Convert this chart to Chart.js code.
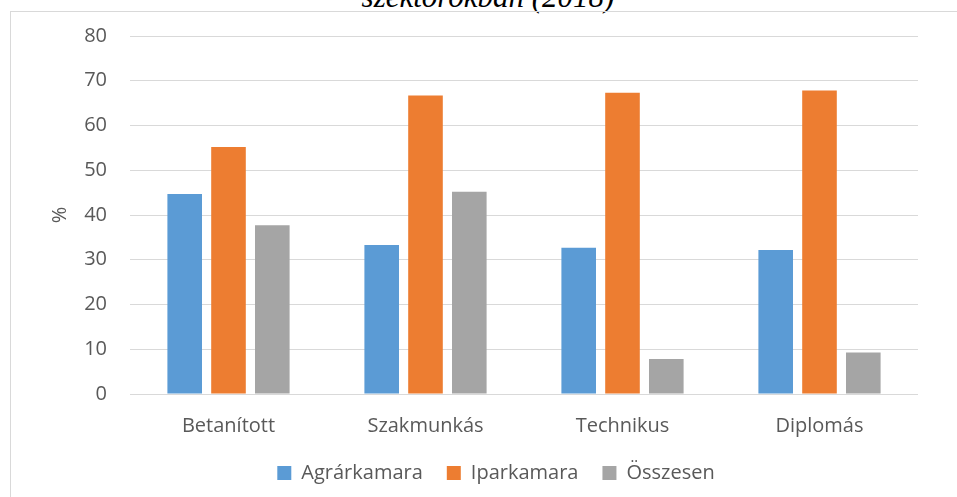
<!DOCTYPE html>
<html><head><meta charset="utf-8">
<script src="https://cdn.jsdelivr.net/npm/chart.js@4"></script>
<style>
html,body{margin:0;padding:0;width:957px;height:497px;overflow:hidden;background:#fff;}
#frame{position:absolute;left:10px;top:11px;width:1000px;height:600px;border:1px solid #d9d9d9;box-sizing:border-box;}
#doc-title{position:absolute;left:488px;top:-19.5px;transform:translateX(-50%);font-family:"Liberation Serif";font-style:italic;font-size:31px;line-height:31px;white-space:nowrap;color:#000;}
canvas{position:absolute;left:0;top:0;}
</style></head><body>
<div id="doc-title">szektorokban (2018)</div>
<div id="frame"></div>
<canvas id="c" width="957" height="497"></canvas>
<script>
const categories = ['Betanított', 'Szakmunkás', 'Technikus', 'Diplomás'];
const seriesNames = ['Agrárkamara', 'Iparkamara', 'Összesen'];
const agrarkamara = [44.7, 33.3, 32.7, 32.2];
const iparkamara = [55.2, 66.7, 67.3, 67.8];
const osszesen = [37.7, 45.2, 7.8, 9.3];
const yTicks = [0, 10, 20, 30, 40, 50, 60, 70, 80];
const colors = ['#5B9BD5', '#ED7D31', '#A5A5A5'];

const textColor = '#595959';
const fontFamily = '"Open Sans", sans-serif';

new Chart(document.getElementById('c'), {
  type: 'bar',
  data: {
    labels: categories,
    datasets: [agrarkamara, iparkamara, osszesen].map((d, i) => ({
      label: seriesNames[i],
      data: d,
      backgroundColor: colors[i],
      borderWidth: 0,
      categoryPercentage: 0.667,
      barPercentage: 0.79
    }))
  },
  options: {
    responsive: false,
    animation: false,
    devicePixelRatio: 1,
    layout: { padding: { top: 36, left: 74, right: 39, bottom: 4 } },
    plugins: {
      legend: {
        position: 'bottom',
        labels: {
          boxWidth: 14, boxHeight: 14, padding: 24,
          color: textColor,
          font: { family: fontFamily, size: 20 }
        }
      },
      tooltip: { enabled: false },
      title: { display: false }
    },
    scales: {
      x: {
        grid: { display: false },
        border: { display: false },
        ticks: { color: textColor, font: { family: fontFamily, size: 20 }, padding: 12, maxRotation: 0 },
        afterFit: (s) => { s.height = 45; }
      },
      y: {
        min: 0, max: 80,
        afterBuildTicks: (s) => { s.ticks = yTicks.map(v => ({ value: v })); },
        grid: { color: '#d9d9d9', lineWidth: 1, drawTicks: false },
        border: { display: false },
        ticks: { color: textColor, font: { family: fontFamily, size: 20 }, padding: 23 },
        title: { display: true, text: '%', color: textColor, font: { family: fontFamily, size: 20 }, padding: { top: -25.6, bottom: 0 } },
        afterFit: (s) => { s.width = 56; }
      }
    }
  }
});
</script>
</body></html>
